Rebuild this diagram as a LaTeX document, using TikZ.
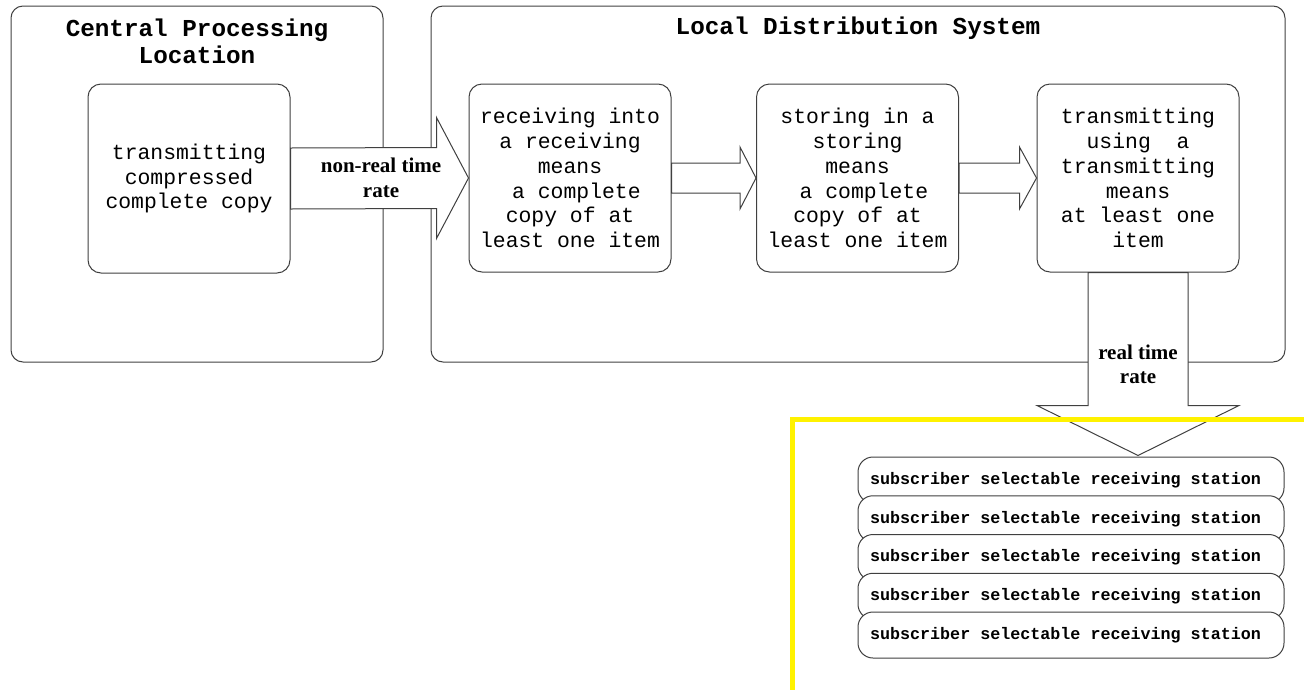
\documentclass[tikz,border=0pt]{standalone}
\usepackage{fontspec}
\setmainfont{Liberation Serif}
\setmonofont{Liberation Mono}
\usetikzlibrary{calc}

% fleche horizontale : #1 depart, #2 pointe, #3 demi-tige, #4 demi-tete, #5 longueur tete
\newcommand{\flecheh}[5]{%
\draw[fleche] ($(#1)+(0,-#3)$) -- ($(#2)+(-#5,-#3)$) -- ($(#2)+(-#5,-#4)$) -- (#2) -- ($(#2)+(-#5,#4)$) -- ($(#2)+(-#5,#3)$) -- ($(#1)+(0,#3)$) -- cycle;}
% fleche verticale vers le bas
\newcommand{\flecheb}[5]{%
\draw[fleche] ($(#1)+(-#3,0)$) -- ($(#2)+(-#3,-#5)$) -- ($(#2)+(-#4,-#5)$) -- (#2) -- ($(#2)+(#4,-#5)$) -- ($(#2)+(#3,-#5)$) -- ($(#1)+(#3,0)$) -- cycle;}

\begin{document}
\begin{tikzpicture}[x=1pt,y=-1pt,
  cadre/.style={draw=black!75, line width=\light, rounded corners=12pt, minimum width=#1},
  boite/.style={draw=black!75, line width=\light, rounded corners=13pt, fill=white,
    minimum width=202pt, minimum height=188pt, align=center,
    font=\ttfamily\fontsize{21.4}{24.8}\selectfont},
  poste/.style={draw=black!75, line width=\light, rounded corners=15pt, fill=white,
    minimum width=426pt, minimum height=46pt,
    font=\ttfamily\bfseries\fontsize{16.7}{19}\selectfont},
  titre/.style={align=center, font=\ttfamily\bfseries\fontsize{24.3}{27}\selectfont},
  debit/.style={align=center, font=\bfseries\fontsize{21}{24.5}\selectfont},
  fleche/.style={draw=black!75, line width=\light, fill=white}]

%%%%%%%%%%%%%%%%%%%%%%
%%%	   Def style    %%%
%%%%%%%%%%%%%%%%%%%%%%

\def \light{1pt}
\def \jaune{5pt}
\def \decal{11pt}

\useasboundingbox (0,0) rectangle (1304,689);

%%%%%%%%%%%%%%%%%%%%%%
%%%	    Cadres      %%%
%%%%%%%%%%%%%%%%%%%%%%

\node[cadre=372pt, minimum height=356pt] (cpl) at (197,184) {};
\node[cadre=854pt, minimum height=356pt] (lds) at (858,184) {};

\node[titre] (tcpl) at (197,41.5) {Central Processing\\Location};
\node[titre] (tlds) at (858,28) {Local Distribution System};

%%%%%%%%%%%%%%%%%%%%%%
%%%	    Boites      %%%
%%%%%%%%%%%%%%%%%%%%%%

\node[boite, minimum height=189pt] (tx) at (189,178.5) {transmitting\\compressed\\complete copy};
\node[boite] (rc) at (570,178) {receiving into\\a receiving\\means\ \\\ a complete\\copy of at\\least one item};
\node[boite] (st) at (857.5,178) {storing in a\\storing\\means\\\ a complete\\copy of at\\least one item};
\node[boite] (tr) at (1138,178) {transmitting\\using\ \ a\\transmitting\\means\\at least one\\item};

%%%%%%%%%%%%%%%%%%%%%%
%%%	    Fleches     %%%
%%%%%%%%%%%%%%%%%%%%%%

% On dessine la fleche du debit non temps reel
\flecheh{tx.east}{rc.west}{30.5}{60.5}{32}
\node[debit] (nrt) at (381,178) {non-real time\\rate};

% Les fleches entre les boites
\flecheh{rc.east}{st.west}{15}{31}{16}
\flecheh{st.east}{tr.west}{15}{31}{17}

% On dessine la fleche du debit temps reel
\coordinate (pointe) at ($(tr.south)+(0,183)$);
\flecheb{tr.south}{pointe}{50}{101}{50}
\node[debit] (rt) at (1138,364.5) {real time\\rate};

%%%%%%%%%%%%%%%%%%%%%%
%%%	    Postes      %%%
%%%%%%%%%%%%%%%%%%%%%%

\foreach \i in {0,...,4}
  \node[poste] (s\i) at (1071,480+38.75*\i) {subscriber selectable receiving station\kern\decal};

% Le cadre jaune
\draw[yellow, line width=\jaune] (792.5,700) -- (792.5,419) -- (1310,419);

%%%%%%%%%%%%%%%%%%%%%%%%%%%%%%%%%%%%%%%%%

\end{tikzpicture}
\end{document}
